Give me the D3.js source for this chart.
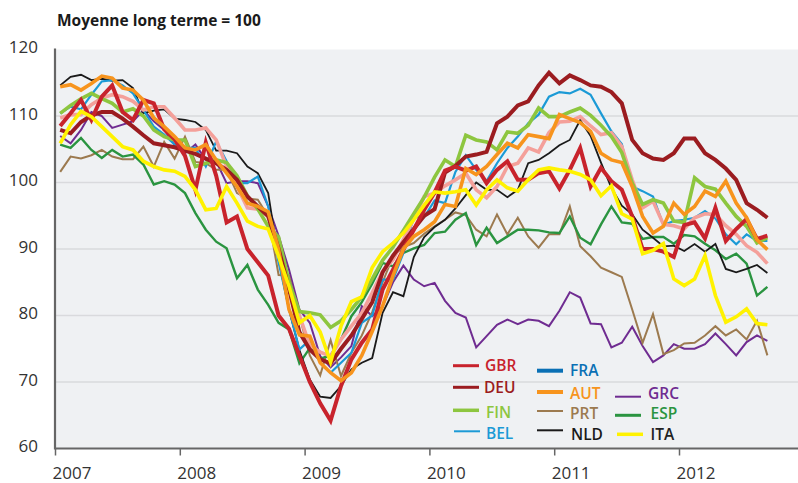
<!DOCTYPE html>
<html>
<head>
<meta charset="utf-8">
<script src="https://cdn.jsdelivr.net/npm/d3@7"></script>
<style>
  body { margin: 0; background: #fff; }
  svg { display: block; font-family: "Open Sans", sans-serif; }
</style>
</head>
<body>
<div id="chart"></div>
<script>
const width = 798;
const height = 483;
const margin = { top: 49.5, right: 0, bottom: 34.5, left: 55 };

// monthly data, Jan 2007 .. Sep 2012
const startYear = 2007;
const yearTicks = [2007, 2008, 2009, 2010, 2011, 2012];
const valueTicks = [60, 70, 80, 90, 100, 110, 120];
const titleText = 'Moyenne long terme = 100';

const gbr = [108.5, 110.4, 112.4, 109.4, 112.9, 114.6, 110.6, 109.4, 112.4, 111.9, 108, 106.5, 104, 98.9, 106, 101, 94, 94.9, 90, 88, 86,
  80, 78, 74, 70, 66.8, 64.2, 69.4, 73.4, 75.9, 77.9, 83.9, 86.9, 89.9, 92.9, 95.9,
  98.5, 101.8, 102.4, 101.8, 102.4, 99.9, 101.9, 103.2, 100.4, 100.4, 101.4, 101.7,
  99.1, 101.9, 105.2, 99.4, 102.2, 100.2, 98.9, 94.9, 90, 90, 89.6, 88.8, 93.6, 94, 91.6, 96.2, 91.2, 93, 94.5, 91.5, 92];
const deu = [107.9, 107.4, 109.1, 110.1, 110.6, 110.6, 109.6, 108.4, 107.1, 105.9, 105.6, 105.3, 104.8, 104.3, 103.6, 102.9, 101.9, 100.4, 97.9, 96.4, 94.9,
  90, 84, 77.5, 74.9, 73.4, 72.8, 75, 77, 79.5, 82, 86.5, 89, 91, 93, 95,
  96, 101.5, 102.5, 103.9, 104.2, 104.6, 108.9, 109.9, 111.6, 112.2, 114.6, 116.5,
  114.9, 116.1, 115.4, 114.6, 114.4, 113.6, 111.9, 106.4, 104.4, 103.6, 103.4, 104.4, 106.6, 106.6, 104.4, 103.4, 102.1, 100.4, 96.9, 95.9, 94.7];
const fin = [110.4, 111.6, 112.6, 113.4, 112.6, 111.9, 110.6, 111.1, 110, 107.9, 106.9, 106.4, 106.4, 102.4, 102.9, 103.4, 103, 101, 98, 96, 93.4,
  91.8, 85, 80.6, 80.4, 80.1, 78.2, 79.2, 80.9, 82.8, 85.5, 88.3, 90.3, 92.8, 95.3, 97.8,
  100.8, 103.4, 102.4, 107.1, 106.4, 106.1, 104.9, 107.6, 107.4, 108.6, 111.2, 109.9,
  109.9, 110.6, 111.2, 110.1, 108.6, 106.9, 104.5, 99.9, 96.7, 97.4, 96.9, 94.2, 94, 100.7, 99.4, 99, 96.9, 94.9, 93.4, 90.9, 91.7];
const bel = [110.4, 111.4, 111, 113.2, 115.2, 115.4, 114.6, 113.4, 110.9, 108.4, 107.2, 105.7, 105.2, 105.2, 102.4, 106.2, 103.2, 99.9, 99.9, 100.9, 96.4,
  88, 81, 74.9, 76.3, 72.9, 71.4, 72.9, 74.4, 78.9, 80, 85.4, 85.4, 89.4, 94.8, 94.8,
  97.3, 96.9, 101.6, 104.1, 101.9, 100.2, 102.9, 105.2, 106.9, 108.9, 110.2, 112.9,
  113.6, 113.4, 114.1, 113.2, 110.4, 107.7, 105.8, 99.4, 98.7, 97.9, 93.6, 94.2, 94.4, 94.7, 95.7, 94.6, 92.2, 90.7, 92.2, 91.2, 91.2];
const fra = [109.7, 110.2, 110.2, 111.7, 112.7, 113.2, 112.9, 112.2, 110.9, 111.4, 111.4, 109.7, 107.9, 107.9, 108.2, 106.4, 102.4, 99.4, 96.2, 96, 95,
  90, 84, 80, 75.5, 74.5, 73.9, 76.4, 78.4, 80.4, 83.4, 86.6, 88.4, 91.4, 94.5, 97.9,
  98.4, 99.5, 100.4, 101.4, 98.9, 97.7, 99.4, 102.4, 102.9, 105.2, 104.6, 107.5,
  109.1, 109.2, 109.9, 108.5, 107.2, 107.5, 105.4, 100.4, 96.2, 97.2, 93.7, 93.5, 93, 94.7, 95.3, 95.2, 93.5, 92.2, 90.5, 89.5, 87.8];
const aut = [114.4, 114.7, 113.9, 114.9, 116, 115.7, 114.2, 113.9, 112.4, 109.7, 108.4, 106.9, 105.2, 104.9, 105.7, 103.4, 101.4, 99.4, 96.9, 96.4, 95.6,
  89.9, 80.9, 77.1, 76.9, 72.9, 71.4, 70.2, 71.4, 74, 77.6, 81.4, 86, 90, 91.9, 92.9,
  94.1, 96.7, 96.4, 102.1, 101.2, 102.4, 104.2, 105.9, 105.2, 107.2, 106.9, 106.6,
  110.2, 109.6, 109, 107.7, 104.4, 103.4, 103, 99.4, 94.9, 92.4, 93.4, 96.9, 95.2, 96.4, 98.7, 97.9, 100.2, 96.9, 94.7, 91.4, 89.9];
const grc = [107, 105.9, 107.9, 110.6, 110, 108.2, 108.7, 109.2, 110.9, 109.2, 107.9, 105.7, 104.4, 105.7, 103.4, 103.2, 99.9, 100.2, 100.2, 99.9, 96.4,
  92, 86.9, 80.9, 78.9, 73.9, 72.2, 73.7, 75.4, 81.4, 79.9, 81.4, 85, 87.5, 85.4, 84.4,
  84.9, 82.2, 80.4, 79.7, 75.2, 76.9, 78.6, 79.4, 78.7, 79.4, 79.2, 78.4,
  80.7, 83.5, 82.7, 78.8, 78.7, 75.2, 75.9, 78.3, 75.4, 73, 74, 75.7, 75, 75, 75.7, 77.3, 75.7, 74, 76, 77, 76.2];
const prt = [101.6, 103.9, 103.6, 104.1, 104.9, 103.9, 103.5, 103.5, 105.4, 102.4, 106.1, 103.6, 106.9, 103.1, 102.9, 101.9, 101.9, 98.4, 97.6, 97.4, 94.9,
  86.1, 86, 80, 74, 71, 76.3, 70.9, 74.4, 77, 80.5, 85, 88.9, 90.3, 90.9, 92.3,
  93.4, 94.4, 95.5, 95.1, 92.9, 91.9, 95.2, 92.2, 94.7, 91.9, 90.2, 92.2,
  92.2, 96.4, 90.4, 88.9, 87.2, 86.5, 85.8, 80.9, 75.9, 80.2, 74.2, 74.8, 75.8, 75.9, 77, 78.4, 77, 77.9, 76.4, 79.2, 74];
const esp = [105.7, 105.2, 106.7, 104.9, 103.7, 104.9, 103.9, 104.2, 102.7, 99.7, 100.2, 99.7, 98.4, 95.4, 92.9, 91.1, 90.1, 85.6, 87.6, 83.9, 81.6,
  78.9, 77.9, 72.8, 75.1, 73.5, 74, 76.4, 79.9, 82, 84.8, 87.9, 87.4, 89.4, 90.1, 90.6,
  92.4, 92.6, 94.4, 95.4, 90.6, 93.2, 90.9, 91.9, 92.9, 92.9, 92.8, 92.5,
  92.4, 94.9, 91.7, 90.7, 93.7, 96.4, 94, 93.8, 91.5, 91.8, 91.8, 90.8, 92.1, 91.9, 90.8, 89.8, 88.5, 89.3, 87.8, 83, 84.3];
const nld = [114.6, 115.9, 116.2, 115.4, 115.6, 115.3, 115.4, 114.2, 110.4, 110.8, 111, 109.6, 109.4, 109.1, 107.9, 104.8, 104.8, 104.4, 102.4, 101.4, 98.4,
  88.4, 80.9, 74.8, 70.4, 67.8, 67.6, 69.4, 71.9, 72.9, 73.6, 80.4, 83.5, 82.9, 88.8, 91.8,
  93.3, 94.4, 96.1, 98.1, 100, 98.9, 98.9, 97.8, 98.9, 102.9, 103.4, 104.4,
  105.6, 106.4, 109.4, 107, 103, 99.2, 96.5, 95.2, 92.9, 91.7, 90.4, 90.5, 89.7, 90.75, 89.6, 90.75, 87, 86.5, 87, 87.6, 86.4];
const ita = [105.9, 108.7, 110.7, 109.9, 108.4, 106.9, 105.4, 104.9, 103.2, 102.4, 101.9, 101.7, 100.9, 98.9, 95.9, 96.1, 99.4, 96.9, 94.2, 93.4, 93,
  88.9, 84.4, 78.9, 80, 77.5, 73, 78.4, 82.1, 82.8, 87.2, 89.6, 90.9, 92.4, 94.4, 96.6,
  98.6, 98.4, 98.6, 98.9, 96.6, 98.9, 100.4, 99.2, 98.7, 100.4, 101.9, 102.2,
  101.9, 101.7, 101.2, 100.4, 98, 99.5, 95.3, 94.5, 89.3, 89.8, 90.8, 85.5, 84.5, 85.5, 89, 83, 79, 79.8, 81, 78.8, 78.6];

// drawing order, bottom to top
const series = [
  { name: 'GRC', values: grc, color: '#6f2c91', width: 2 },
  { name: 'PRT', values: prt, color: '#9c7a4f', width: 2 },
  { name: 'ESP', values: esp, color: '#2a9440', width: 2.4 },
  { name: 'NLD', values: nld, color: '#1a1a1a', width: 1.8 },
  { name: 'BEL', values: bel, color: '#1b9ad6', width: 2.2 },
  { name: 'FRA', values: fra, color: '#f4a09a', width: 3.6 },
  { name: 'FIN', values: fin, color: '#8dc63f', width: 3.6 },
  { name: 'DEU', values: deu, color: '#9b1c20', width: 4 },
  { name: 'GBR', values: gbr, color: '#c8232c', width: 4 },
  { name: 'AUT', values: aut, color: '#f7941d', width: 3.6 },
  { name: 'ITA', values: ita, color: '#fff200', width: 3.6 },
];

// legend layout: swatch start/y, text x/y (text y is the text's middle)
const legendItems = [
  { label: 'GBR', color: '#c8232c', text: '#c8232c', w: 3, sx: 453, sy: 365.7, tx: 485, ty: 365 },
  { label: 'DEU', color: '#9b1c20', text: '#9b1c20', w: 3, sx: 453, sy: 387.3, tx: 484, ty: 387 },
  { label: 'FIN', color: '#8dc63f', text: '#8dc63f', w: 3.5, sx: 453, sy: 410.3, tx: 486, ty: 412.5 },
  { label: 'BEL', color: '#1b9ad6', text: '#1b9ad6', w: 2, sx: 454, sy: 431.3, tx: 486, ty: 433.5 },
  { label: 'FRA', color: '#0a70b5', text: '#0a70b5', w: 4, sx: 537, sy: 370.7, tx: 570, ty: 370.5 },
  { label: 'AUT', color: '#f7941d', text: '#f7941d', w: 4, sx: 537, sy: 392, tx: 570, ty: 393.3 },
  { label: 'PRT', color: '#9c7a4f', text: '#9c7a4f', w: 2, sx: 537, sy: 411, tx: 570, ty: 413.5 },
  { label: 'NLD', color: '#1a1a1a', text: '#1a1a1a', w: 2, sx: 537, sy: 430.3, tx: 571, ty: 434 },
  { label: 'GRC', color: '#6f2c91', text: '#6f2c91', w: 2, sx: 615, sy: 396.7, tx: 648, ty: 393.3 },
  { label: 'ESP', color: '#2a9440', text: '#2a9440', w: 3, sx: 615, sy: 415.3, tx: 650.5, ty: 413.5 },
  { label: 'ITA', color: '#fff200', text: '#222222', w: 3.5, sx: 617, sy: 434.3, tx: 650.5, ty: 434 },
];

const svg = d3.select('#chart')
  .append('svg')
  .attr('width', width)
  .attr('height', height);

const x = d3.scaleLinear()
  .domain([2007, 2013])
  .range([margin.left, margin.left + 6 * 124.8]);

const y = d3.scaleLinear()
  .domain([60, 120])
  .range([height - margin.bottom, margin.top]);

const plotRight = width - margin.right;

svg.append('rect')
  .attr('x', margin.left)
  .attr('y', margin.top)
  .attr('width', plotRight - margin.left)
  .attr('height', y(60) - margin.top)
  .attr('fill', '#eff1f3');

svg.append('g')
  .selectAll('line')
  .data(valueTicks.filter(v => v > 60 && v < 120))
  .join('line')
    .attr('x1', margin.left)
    .attr('x2', plotRight)
    .attr('y1', d => y(d))
    .attr('y2', d => y(d))
    .attr('stroke', '#d9dadd')
    .attr('stroke-width', 1.5);

const line = d3.line()
  .x((d, i) => x(startYear + (i + 0.5) / 12))
  .y(d => y(d));

svg.append('g')
  .selectAll('path')
  .data(series)
  .join('path')
    .attr('d', d => line(d.values))
    .attr('fill', 'none')
    .attr('stroke', d => d.color)
    .attr('stroke-width', d => d.width)
    .attr('stroke-linejoin', 'miter');

function yAxis(g) {
  g.attr('transform', `translate(${margin.left},0)`)
    .call(d3.axisLeft(y).tickValues(valueTicks).tickSize(0).tickPadding(17))
    .call(g => g.select('.domain').remove())
    .call(g => g.selectAll('text')
      .attr('dy', '0.2em')
      .attr('fill', '#333')
      .attr('font-size', '17px')
      .attr('font-family', '"Open Sans", sans-serif'));
}

function xAxis(g) {
  g.attr('transform', `translate(0,${y(60)})`)
    .call(d3.axisBottom(x).tickValues(yearTicks).tickFormat(d3.format('d')).tickSize(7).tickPadding(11.5))
    .call(g => g.select('.domain').remove())
    .call(g => g.selectAll('line').attr('stroke', '#666').attr('stroke-width', 1.5))
    .call(g => g.selectAll('text')
      .attr('text-anchor', 'start')
      .attr('x', -3)
      .attr('fill', '#333')
      .attr('font-size', '17px')
      .attr('font-family', '"Open Sans", sans-serif'));
}

svg.append('g').call(xAxis);
svg.append('g').call(yAxis);

// axis lines
svg.append('line')
  .attr('x1', margin.left).attr('x2', plotRight)
  .attr('y1', y(60)).attr('y2', y(60))
  .attr('stroke', '#666').attr('stroke-width', 2.2);
svg.append('line')
  .attr('x1', margin.left).attr('x2', margin.left)
  .attr('y1', margin.top - 1).attr('y2', y(60) + 1)
  .attr('stroke', '#666').attr('stroke-width', 2.2);

svg.append('text')
  .attr('x', 57)
  .attr('y', 26)
  .attr('font-size', '15.5px')
  .attr('font-weight', 'bold')
  .attr('fill', '#1a1a1a')
  .text(titleText);

const legend = svg.append('g')
  .selectAll('g')
  .data(legendItems)
  .join('g');

legend.append('line')
  .attr('x1', d => d.sx).attr('x2', d => d.sx + 26)
  .attr('y1', d => d.sy).attr('y2', d => d.sy)
  .attr('stroke', d => d.color)
  .attr('stroke-width', d => d.w);

legend.append('text')
  .attr('x', d => d.tx)
  .attr('y', d => d.ty)
  .attr('dy', '0.36em')
  .attr('font-size', '15.5px')
  .attr('font-weight', 600)
  .attr('fill', d => d.text)
  .text(d => d.label);
</script>
</body>
</html>
